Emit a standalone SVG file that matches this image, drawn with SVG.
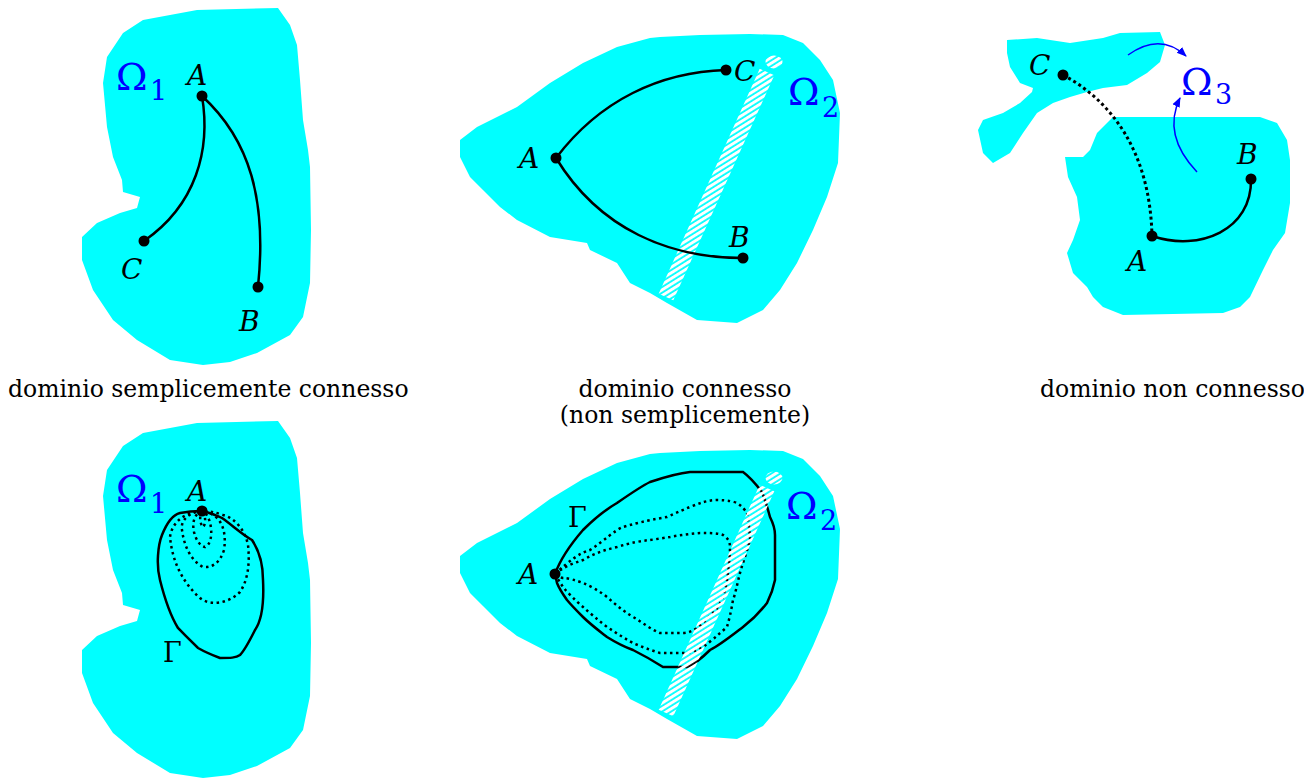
<svg xmlns="http://www.w3.org/2000/svg" width="1304" height="782" viewBox="0 0 1304 782">
<style>
.blob{fill:#00ffff;stroke:none}
.lbl{font-family:"DejaVu Serif",serif;font-style:italic;font-size:28px;fill:#000}
.gam{font-family:"DejaVu Serif",serif;font-size:27px;fill:#000}
.om{font-family:"DejaVu Serif",serif;font-size:38px;fill:#0000ff}
.sub{font-size:27px}
.cap{font-family:"DejaVu Serif",serif;font-size:23.5px;fill:#000}
.solid{fill:none;stroke:#000;stroke-width:2.5}
.dot1{fill:none;stroke:#000;stroke-width:3;stroke-dasharray:3 3}
.dot2{fill:none;stroke:#000;stroke-width:2.5;stroke-dasharray:2.5 3.5}
.pt{fill:#000}
.blue{fill:none;stroke:#0000ff;stroke-width:1.5}
.band{fill:url(#hatch)}
</style>
<defs>
<pattern id="hatch" patternUnits="userSpaceOnUse" width="10" height="4.8" patternTransform="rotate(-32)">
<rect x="0" y="0" width="10" height="3" fill="#ffffff"/>
</pattern>
<marker id="arr" viewBox="0 0 10 10" refX="9" refY="5" markerWidth="10" markerHeight="10" orient="auto" markerUnits="userSpaceOnUse">
<path d="M0,1 L10,5 L0,9 z" fill="#0000ff"/>
</marker>
<polygon id="b1" points="278,8 290,25 297,45 300,80 303,120 308,150 310,167 311,230 310,283 303,317 290,335 257,353 230,362 203,365 170,360 137,340 113,320 93,290 82,260 82,237 97,223 120,213 137,208 140,197 123,192 122,180 113,157 107,127 103,83 107,57 123,33 143,20 170,15 197,10"/>
<polygon id="b2" points="650,38 660,37 700,35 750,34 783,35 803,43 820,60 833,80 840,113 838,163 827,197 813,230 797,263 780,290 763,310 737,323 697,320 667,303 650,293 630,283 617,263 590,250 587,243 550,237 517,220 500,207 483,190 470,177 460,157 460,140 477,127 517,107 550,83 583,63 617,47"/>
</defs>

<g id="panel1">
<use href="#b1" class="blob"/>
<text class="om" x="116" y="90">Ω<tspan class="sub" x="150" y="100">1</tspan></text>
<text class="lbl" x="187" y="85">A</text>
<text class="lbl" x="121" y="279">C</text>
<text class="lbl" x="239" y="331">B</text>
<path class="solid" d="M202,96 C211,150 196,205 144,241"/>
<path class="solid" d="M202,96 C250,140 267,200 258,287"/>
<circle class="pt" cx="202" cy="96" r="5.5"/>
<circle class="pt" cx="144" cy="241" r="5.5"/>
<circle class="pt" cx="258" cy="287" r="5.5"/>
<text class="cap" x="8" y="397">dominio semplicemente connesso</text>
</g>

<g id="panel2">
<use href="#b2" class="blob"/>
<polygon class="band" points="658.7,293.7 759.7,68.7 774.3,75.3 673.3,300.3"/>
<ellipse class="band" cx="774" cy="62" rx="8.5" ry="6.5"/>
<path class="solid" d="M556,158 C600,100 660,72 726,70"/>
<path class="solid" d="M556,158 C600,230 670,258 743,258"/>
<circle class="pt" cx="556" cy="158" r="5.5"/>
<circle class="pt" cx="726" cy="70" r="5.5"/>
<circle class="pt" cx="743" cy="258" r="5.5"/>
<text class="lbl" x="519" y="168">A</text>
<text class="lbl" x="734" y="81">C</text>
<text class="lbl" x="729" y="247">B</text>
<text class="om" x="788" y="105">Ω<tspan class="sub" x="822" y="117">2</tspan></text>
<text class="cap" x="685" y="397" text-anchor="middle">dominio connesso</text>
<text class="cap" x="685" y="423" text-anchor="middle">(non semplicemente)</text>
</g>

<g id="panel3">
<polygon class="blob" points="1007,40 1037,38 1070,43 1103,38 1120,33 1160,32 1165,45 1160,62 1147,73 1127,85 1103,88 1087,92 1070,97 1053,103 1037,113 1023,133 1010,153 993,163 983,153 978,130 983,120 1003,113 1020,103 1032,92 1033,88 1020,83 1010,67 1007,53"/>
<polygon class="blob" points="1113,117 1260,117 1277,123 1287,140 1290,160 1290,203 1285,233 1273,250 1263,270 1250,297 1240,307 1223,313 1123,315 1103,307 1093,297 1087,287 1073,273 1067,253 1073,240 1080,220 1077,197 1068,177 1065,157 1083,157 1090,150 1097,133"/>
<path class="dot1" d="M1063,75 C1110,100 1150,150 1152,236"/>
<path class="solid" d="M1152,236 C1200,252 1252,230 1251,179"/>
<circle class="pt" cx="1063" cy="75" r="5.5"/>
<circle class="pt" cx="1152" cy="236" r="5.5"/>
<circle class="pt" cx="1251" cy="179" r="5.5"/>
<text class="lbl" x="1029" y="75">C</text>
<text class="lbl" x="1127" y="271">A</text>
<text class="lbl" x="1237" y="164">B</text>
<text class="om" x="1181" y="95">Ω<tspan class="sub" x="1215" y="104">3</tspan></text>
<path class="blue" d="M1128,55 Q1160,32 1186,56" marker-end="url(#arr)"/>
<path class="blue" d="M1197,172 Q1162,135 1180,98" marker-end="url(#arr)"/>
<text class="cap" x="1040" y="397">dominio non connesso</text>
</g>

<g id="panel4">
<use href="#b1" class="blob" transform="translate(0,413)"/>
<text class="om" x="116" y="502">Ω<tspan class="sub" x="150" y="513">1</tspan></text>
<text class="lbl" x="187" y="501">A</text>
<text class="gam" x="163" y="662">Γ</text>
<path class="solid" d="M202,511 C210,513 218,516 222,518 C232,525 243,535 252,540 C260,552 263,565 263,580 C264,600 262,620 255,630 C250,640 245,650 240,655 C236,658 230,658 220,658 C212,655 205,652 198,648 C190,640 185,635 178,628 C170,615 165,600 160,580 C156,565 158,545 162,535 C166,525 172,515 180,513 C190,511 196,511 202,511 Z"/>
<path class="dot2" d="M202,511 C185,512 172,522 170,537 C172,558 180,580 200,598 C210,606 228,604 240,592 C248,580 250,563 248,545 C245,530 235,518 223,515 C215,512 208,511 202,511"/>
<path class="dot2" d="M202,511 C190,512 180,520 182,530 C184,545 190,560 203,567 C212,568 220,563 224,550 C226,537 224,526 218,519 C213,514 207,511 202,511"/>
<path class="dot2" d="M202,511 C194,514 192,523 194,532 C196,540 200,546 205,547 C210,545 212,537 211,528 C210,520 207,513 202,511"/>
<path class="dot2" d="M202,511 C199,516 200,524 203,527 C206,524 206,516 202,511"/>
<circle class="pt" cx="202" cy="511" r="5.5"/>
</g>

<g id="panel5">
<use href="#b2" class="blob" transform="translate(0,416)"/>
<path class="solid" d="M555,574 C560,560 570,545 583,530 C595,518 605,510 617,503 C630,494 640,487 650,482 C665,477 680,473 690,472 L743,472 C750,477 755,483 762,492 C766,502 768,510 770,517 C773,523 775,528 775,535 L775,580 C773,590 770,597 767,603 C760,612 752,620 743,627 C730,637 720,645 710,650 C703,657 695,664 687,667 L663,667 C652,660 643,655 633,650 C622,646 615,642 607,637 C598,630 590,624 583,617 C577,611 572,606 567,600 C562,593 559,588 557,583 Z"/>
<path class="dot2" d="M555,574 C570,560 580,553 590,550 C605,540 615,530 623,527 C640,522 655,519 667,517 C678,512 685,509 690,507 C700,503 708,500 717,500 C727,500 735,502 737,503 C742,506 745,510 747,513 C749,525 750,535 750,540 C746,555 742,565 740,573 C737,585 735,595 733,600 C731,612 729,620 727,627 C718,635 710,642 703,647 C695,651 690,653 683,653 L660,653 C650,650 640,646 633,643 C622,637 615,632 607,627 C598,620 590,613 583,607 C575,600 568,593 563,587 C560,582 557,578 555,574"/>
<path class="dot2" d="M555,574 C565,566 574,563 583,560 C595,553 605,550 617,547 C630,543 640,541 650,540 C657,539 664,538 670,537 C680,535 690,534 700,533 C710,533 718,533 723,535 C728,538 730,542 730,547 C730,555 729,565 728,573 C727,583 725,590 723,597 C720,604 717,609 713,613 C707,619 702,624 697,628 C692,631 688,633 683,633 L660,633 C650,629 642,622 633,617 C622,610 615,604 607,597 C598,590 590,586 583,583 C575,580 568,578 563,578 C559,577 557,575 555,574"/>
<polygon class="band" points="658.7,709.7 759.7,484.7 774.3,491.3 673.3,716.3"/>
<ellipse class="band" cx="774" cy="478" rx="8.5" ry="6.5"/>
<circle class="pt" cx="555" cy="574" r="5.5"/>
<text class="lbl" x="518" y="584">A</text>
<text class="gam" x="568" y="527">Γ</text>
<text class="om" x="786" y="519">Ω<tspan class="sub" x="820" y="530">2</tspan></text>
</g>
</svg>
